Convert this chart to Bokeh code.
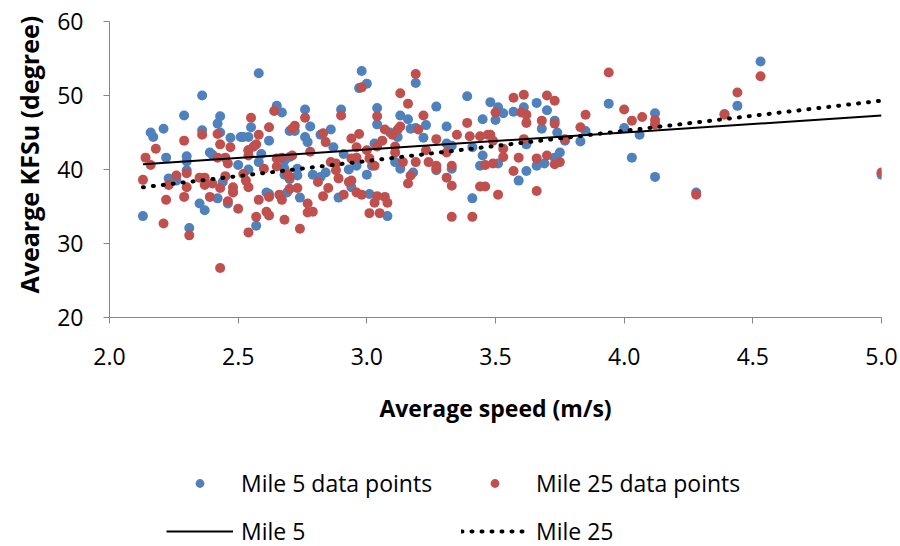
from bokeh.plotting import figure
from bokeh.layouts import column
from bokeh.models import Range1d, FixedTicker, PrintfTickFormatter, Legend, LegendItem, Title
from bokeh.embed import file_html
from bokeh.resources import INLINE

# ---- data ----
mile5_speed = [2.36, 2.29, 2.16, 2.17, 2.21, 2.22, 2.13, 2.23, 2.26, 2.30, 2.30, 2.30, 2.31, 2.35,
               2.37, 2.36, 2.39, 2.40, 2.42, 2.43, 2.43, 2.47, 2.50, 2.42, 2.46, 2.44, 2.51, 2.48,
               2.58, 2.98, 3.00, 2.97, 2.65, 2.67, 2.76, 2.90, 2.55, 2.52, 2.54, 2.62, 2.70, 2.72,
               2.78, 2.76, 2.77, 2.86, 2.82, 2.87, 2.54, 2.59, 2.54, 2.58, 2.68, 2.70, 2.68, 2.68,
               2.73, 2.73, 2.70, 2.79, 2.82, 2.84, 2.93, 2.96, 3.00, 2.94, 2.61, 2.62, 2.69, 2.74,
               2.89, 2.57, 3.01, 2.91,
               3.19, 3.39, 3.27, 3.48, 3.50, 3.51, 3.04, 3.04, 3.13, 3.16, 3.17, 3.19, 3.23, 3.31,
               3.45, 3.22, 3.12, 3.09, 3.03, 3.31, 3.33, 3.27, 3.11, 3.13, 3.18, 3.33, 3.44, 3.45,
               3.08, 3.41, 3.41, 3.51, 3.02,
               3.94, 3.53, 3.57, 3.61, 3.66, 3.70, 3.68, 3.73, 3.74, 3.62, 3.77, 3.83, 3.85, 4.00,
               4.03, 3.75, 3.73, 3.69, 3.66, 3.62, 3.59,
               4.53, 4.44, 4.12, 4.06, 4.12, 4.28, 4.39, 5.00]
mile5_kfsu = [50.0, 47.3, 45.0, 44.4, 45.5, 41.6, 33.7, 38.8, 38.5, 41.8, 41.1, 39.9, 32.1, 35.4,
              34.5, 45.3, 42.3, 42.0, 46.2, 47.2, 45.0, 44.3, 40.6, 36.1, 35.4, 38.3, 44.4, 37.0,
              53.0, 53.3, 51.6, 51.0, 48.6, 47.7, 48.1, 48.1, 45.7, 44.4, 44.4, 43.9, 45.2, 45.2,
              45.8, 44.4, 43.7, 45.4, 44.7, 43.0, 42.6, 42.1, 40.0, 41.0, 41.2, 41.7, 40.1, 39.3,
              40.1, 39.2, 38.7, 39.3, 39.0, 39.6, 40.0, 40.5, 39.3, 37.6, 36.9, 36.7, 36.9, 36.2,
              36.2, 32.4, 36.7, 42.1,
              51.7, 49.9, 48.5, 49.1, 46.7, 48.4, 48.3, 46.1, 47.3, 46.8, 45.5, 45.6, 46.0, 45.8,
              46.8, 44.3, 44.4, 45.0, 43.5, 43.5, 43.2, 39.9, 41.0, 40.1, 39.6, 40.1, 40.5, 41.9,
              33.7, 36.1, 43.0, 40.8, 40.5,
              48.9, 47.6, 47.8, 48.4, 49.0, 48.0, 45.5, 46.6, 45.0, 43.4, 43.9, 43.8, 45.2, 45.6,
              41.6, 42.3, 41.6, 40.8, 40.5, 39.8, 38.5,
              54.6, 48.6, 47.6, 44.7, 39.0, 36.9, 47.5, 39.3]

mile25_speed = [2.14, 2.16, 2.18, 2.13, 2.22, 2.21, 2.23, 2.26, 2.29, 2.30, 2.30, 2.29, 2.31, 2.36,
                2.35, 2.37, 2.37, 2.39, 2.42, 2.43, 2.47, 2.42, 2.45, 2.46, 2.40, 2.43, 2.45, 2.48,
                2.48, 2.46, 2.50, 2.43,
                2.98, 2.64, 2.90, 2.76, 2.55, 2.62, 2.58, 2.72, 2.71, 2.83, 2.84, 2.78, 2.54, 2.56,
                2.57, 2.54, 2.60, 2.65, 2.65, 2.67, 2.71, 2.69, 2.70, 2.52, 2.53, 2.54, 2.58, 2.62,
                2.66, 2.67, 2.73, 2.70, 2.77, 2.77, 2.79, 2.61, 2.62, 2.68, 2.74, 2.57, 2.54, 2.81,
                2.85, 2.83, 2.86, 2.88, 2.88, 2.89, 2.91, 2.93, 2.94, 2.96, 2.98, 2.94, 2.96, 2.94,
                2.97, 2.96, 3.01, 3.00,
                3.19, 3.13, 3.16, 3.04, 3.22, 3.39, 3.50, 3.07, 3.10, 3.12, 3.13, 3.20, 3.06, 3.04,
                3.11, 3.11, 3.27, 3.35, 3.40, 3.44, 3.47, 3.48, 3.49, 3.23, 3.24, 3.31, 3.19, 3.14,
                3.27, 3.27, 3.33, 3.31, 3.33, 3.17, 3.16, 3.01, 3.03, 3.04, 3.07, 3.03, 3.08, 3.05,
                3.33, 3.41, 3.44, 3.46, 3.46, 3.49, 3.51,
                3.94, 3.57, 3.61, 3.70, 3.73, 3.60, 3.62, 3.62, 3.68, 3.73, 3.85, 4.00, 4.03, 3.83,
                3.77, 3.61, 3.53, 3.53, 3.59, 3.66, 3.70, 3.73, 3.75, 3.57, 3.66,
                4.53, 4.44, 4.07, 4.12, 4.12, 4.39, 4.28, 5.00]
mile25_kfsu = [41.6, 40.6, 42.8, 38.6, 35.9, 32.7, 37.9, 39.2, 43.9, 39.5, 37.6, 36.3, 31.1, 44.7,
               38.9, 38.9, 37.9, 36.3, 44.8, 43.4, 43.0, 41.6, 41.6, 40.8, 38.1, 37.5, 39.1, 37.6,
               36.9, 35.7, 34.7, 26.7,
               51.1, 47.9, 47.3, 47.0, 47.0, 45.7, 44.7, 45.9, 45.5, 44.9, 43.7, 42.4, 42.6, 43.1,
               43.4, 41.9, 40.1, 40.4, 41.5, 41.6, 41.9, 39.4, 39.0, 39.4, 38.5, 37.6, 35.9, 36.3,
               36.6, 35.9, 37.5, 37.4, 35.4, 34.2, 34.3, 34.3, 33.8, 33.2, 32.0, 33.6, 31.5, 38.3,
               37.5, 36.4, 41.0, 40.8, 39.9, 38.8, 36.6, 38.3, 38.5, 36.9, 36.6, 41.5, 41.6, 44.2,
               44.8, 43.0, 34.1, 42.6,
               52.9, 50.3, 48.9, 47.2, 47.3, 46.3, 47.7, 45.4, 44.7, 45.4, 45.8, 45.4, 43.9, 43.1,
               43.1, 42.3, 44.1, 44.7, 44.5, 44.5, 44.7, 44.7, 43.9, 42.6, 41.0, 42.3, 41.0, 41.0,
               40.5, 40.1, 40.5, 38.9, 37.8, 39.2, 38.1, 41.5, 40.5, 36.4, 36.3, 35.5, 35.5, 34.1,
               33.6, 33.6, 37.7, 37.7, 40.6, 40.8, 36.6,
               53.1, 49.7, 50.1, 50.0, 49.3, 47.7, 47.4, 46.3, 46.6, 46.2, 47.4, 48.1, 46.6, 45.7,
               44.1, 44.1, 42.8, 41.7, 41.6, 41.5, 41.9, 40.7, 41.0, 39.8, 37.1,
               52.6, 50.4, 47.1, 46.7, 46.1, 47.4, 36.6, 39.6]

trend_speed = [2.13, 5.00]
trend5_kfsu = [40.7, 47.3]
trend25_kfsu = [37.6, 49.3]

x_ticks = [2.0, 2.5, 3.0, 3.5, 4.0, 4.5, 5.0]
y_ticks = [20, 30, 40, 50, 60]
series_labels = ["Mile 5 data points", "Mile 25 data points", "Mile 5", "Mile 25"]

FONT = "Open Sans"
BLUE = "#4F81BD"
RED = "#C0504D"
AXIS = "#868686"

# ---- main chart ----
p = figure(width=900, height=440, output_backend="svg", toolbar_location=None,
           x_range=Range1d(2.0, 5.0), y_range=Range1d(20, 60),
           min_border_left=109, min_border_right=19, min_border_top=21, min_border_bottom=123)
p.outline_line_color = None
p.grid.visible = False

p.xaxis.ticker = FixedTicker(ticks=x_ticks)
p.yaxis.ticker = FixedTicker(ticks=y_ticks)
p.xaxis.formatter = PrintfTickFormatter(format="%.1f")
p.xaxis.axis_label = "Average speed (m/s)"

for ax in (p.xaxis[0], p.yaxis[0]):
    ax.axis_line_color = AXIS
    ax.major_tick_line_color = AXIS
    ax.major_tick_out = 6
    ax.major_tick_in = 0
    ax.minor_tick_line_color = None
    ax.major_label_text_font = FONT
    ax.major_label_text_font_size = "23px"
    ax.major_label_text_color = "black"
    ax.axis_label_text_font = FONT
    ax.axis_label_text_font_style = "bold"
    ax.axis_label_text_font_size = "23px"
    ax.axis_label_text_color = "black"

p.xaxis.major_label_standoff = 24
p.xaxis.axis_label_standoff = 24
p.yaxis.major_label_standoff = 20

ytitle = Title(text="Avearge KFSu (degree)", align="left", offset=24,
               text_font=FONT, text_font_style="bold", text_font_size="25px",
               text_color="black", standoff=18)
p.add_layout(ytitle, "left")

p.scatter(mile5_speed, mile5_kfsu, size=10, fill_color=BLUE, line_color=None)
p.scatter(mile25_speed, mile25_kfsu, size=10, fill_color=RED, line_color=None)
p.line(trend_speed, trend5_kfsu, line_color="black", line_width=2)
p.line(trend_speed, trend25_kfsu, line_color="black", line_width=4,
       line_dash="1 9", line_cap="round")

# ---- legend strip below the chart: same series with the same styles; its view range
#      (0..1) keeps the marks themselves out of sight, only the legend shows ----
q = figure(width=900, height=106, output_backend="svg", toolbar_location=None,
           x_range=Range1d(0, 1), y_range=Range1d(0, 1),
           x_axis_location=None, y_axis_location=None, min_border=0)
q.outline_line_color = None
q.grid.visible = False
g5 = q.scatter(mile5_speed, mile5_kfsu, size=10, fill_color=BLUE, line_color=None)
g25 = q.scatter(mile25_speed, mile25_kfsu, size=10, fill_color=RED, line_color=None)
t5 = q.line(trend_speed, trend5_kfsu, line_color="black", line_width=2)
t25 = q.line(trend_speed, trend25_kfsu, line_color="black", line_width=4,
             line_dash="1 9", line_cap="round")

legend = Legend(items=[LegendItem(label=series_labels[0], renderers=[g5]),
                       LegendItem(label=series_labels[1], renderers=[g25]),
                       LegendItem(label=series_labels[2], renderers=[t5]),
                       LegendItem(label=series_labels[3], renderers=[t25])],
                orientation="horizontal", ncols=2, location=(57, -1),
                glyph_width=67, glyph_height=22, label_height=22, label_width=204,
                label_standoff=8, spacing=16, padding=0, margin=0,
                border_line_color=None, background_fill_alpha=0,
                label_text_font=FONT, label_text_font_size="23px", label_text_color="black")
q.add_layout(legend)

layout = column(p, q, spacing=0)
open("out.html", "w").write(file_html(layout, INLINE))
